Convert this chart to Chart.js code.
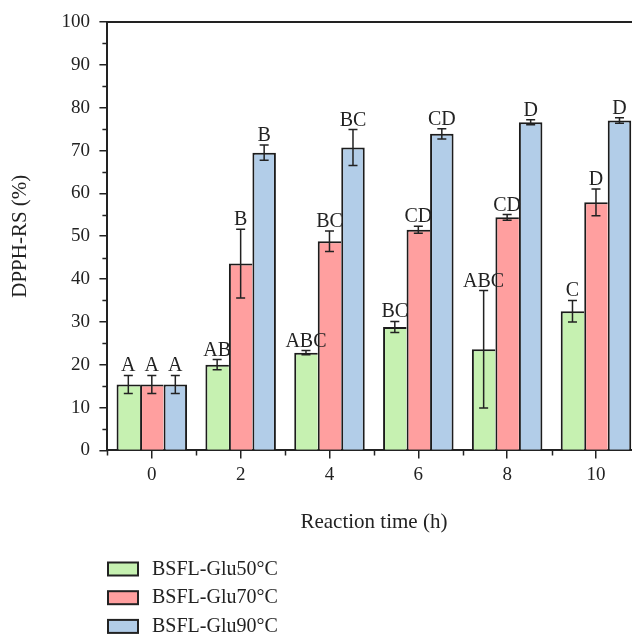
<!DOCTYPE html>
<html>
<head>
<meta charset="utf-8">
<script src="https://cdn.jsdelivr.net/npm/chart.js@4.4.1/dist/chart.umd.min.js"></script>
<style>
html,body{margin:0;padding:0;overflow:hidden;background:#fff;}
#wrap{width:660px;height:635px;position:relative;}
</style>
</head>
<body>
<div id="wrap"><canvas id="c"></canvas></div>
<script>
const categories = ['0','2','4','6','8','10'];
const seriesNames = ['BSFL-Glu50°C','BSFL-Glu70°C','BSFL-Glu90°C'];
const glu50 = [15.4, 20.0, 22.8, 28.8, 23.6, 32.5];
const glu50Err = [2.1, 1.2, 0.5, 1.3, 13.7, 2.5];
const glu70 = [15.4, 43.6, 48.8, 51.5, 54.4, 57.9];
const glu70Err = [2.1, 8.0, 2.4, 0.8, 0.65, 3.1];
const glu90 = [15.4, 69.5, 70.7, 73.9, 76.6, 77.0];
const glu90Err = [2.1, 1.8, 4.2, 1.2, 0.6, 0.65];
const glu50Letters = ['A','AB','ABC','BC','ABC','C'];
const glu70Letters = ['A','B','BC','CD','CD','D'];
const glu90Letters = ['A','B','BC','CD','D','D'];
const yMin = 0, yMax = 100, yStep = 10;

const SERIF = "'Liberation Serif','Times New Roman',serif";
const INK = '#222222';
const colors = ['#c6f1b1', '#ff9f9f', '#b2cde8'];
const errs = [glu50Err, glu70Err, glu90Err];
const letters = [glu50Letters, glu70Letters, glu90Letters];

const extras = {
  id: 'extras',
  afterDatasetsDraw(chart) {
    const ctx = chart.ctx;
    const ys = chart.scales.y;
    ctx.save();
    ctx.strokeStyle = INK;
    chart.data.datasets.forEach((ds, di) => {
      const meta = chart.getDatasetMeta(di);
      meta.data.forEach((bar, i) => {
        const v = ds.data[i], e = errs[di][i];
        const x = bar.x;
        const yt = ys.getPixelForValue(v + e);
        const yb = ys.getPixelForValue(v - e);
        ctx.lineWidth = 1.5;
        ctx.beginPath();
        ctx.moveTo(x, yt); ctx.lineTo(x, yb);
        ctx.moveTo(x - 4.5, yt); ctx.lineTo(x + 4.5, yt);
        ctx.moveTo(x - 4.5, yb); ctx.lineTo(x + 4.5, yb);
        ctx.stroke();
        ctx.fillStyle = INK;
        ctx.font = '20px ' + SERIF;
        ctx.textAlign = 'center';
        ctx.textBaseline = 'alphabetic';
        ctx.fillText(letters[di][i], x, yt - 4);
      });
    });
    ctx.restore();
  },
  afterDraw(chart) {
    const ctx = chart.ctx;
    const ys = chart.scales.y, xs = chart.scales.x;
    const ca = chart.chartArea;
    ctx.save();
    ctx.strokeStyle = INK;
    ctx.lineWidth = 2;
    ctx.beginPath();
    ctx.moveTo(ca.left - 1, ca.top); ctx.lineTo(ca.right, ca.top);
    ctx.moveTo(ca.right, ca.top); ctx.lineTo(ca.right, ca.bottom);
    ctx.stroke();
    ctx.lineWidth = 1.5;
    ctx.beginPath();
    for (let v = yMin + yStep / 2; v < yMax; v += yStep) {
      const y = Math.round(ys.getPixelForValue(v)) + 0.5;
      ctx.moveTo(ca.left - 5, y); ctx.lineTo(ca.left, y);
    }
    const n = categories.length;
    for (let i = 0; i <= n; i++) {
      let x;
      if (i === 0) x = ca.left;
      else if (i === n) x = ca.right;
      else x = (xs.getPixelForValue(i - 1) + xs.getPixelForValue(i)) / 2;
      x = Math.round(x) + 0.5;
      ctx.moveTo(x, ca.bottom); ctx.lineTo(x, ca.bottom + 5);
    }
    ctx.stroke();
    chart.data.datasets.forEach((ds, di) => {
      const bx = 108, by = 562.5 + di * 28.7, bw = 30, bh = 13;
      ctx.fillStyle = ds.backgroundColor;
      ctx.fillRect(bx, by, bw, bh);
      ctx.lineWidth = 2;
      ctx.strokeStyle = INK;
      ctx.strokeRect(bx, by, bw, bh);
      ctx.fillStyle = INK;
      ctx.font = '20px ' + SERIF;
      ctx.textAlign = 'left';
      ctx.textBaseline = 'middle';
      ctx.fillText(ds.label, 152, by + bh / 2 + 0.5);
    });
    ctx.restore();
  }
};

const bw = [
  {top: 2, left: 2, right: 0, bottom: 0},
  {top: 2, left: 2, right: 0, bottom: 0},
  {top: 2, left: 2, right: 2, bottom: 0}
];

new Chart(document.getElementById('c'), {
  type: 'bar',
  data: {
    labels: categories,
    datasets: [glu50, glu70, glu90].map((d, i) => ({
      label: seriesNames[i],
      data: d,
      backgroundColor: colors[i],
      borderColor: '#1c1c1c',
      borderWidth: bw[i],
      borderSkipped: 'start',
      categoryPercentage: 0.7937,
      barPercentage: 1.0
    }))
  },
  options: {
    responsive: true,
    maintainAspectRatio: false,
    devicePixelRatio: 1,
    animation: false,
    layout: {padding: {left: 0, top: 22, right: 19.6, bottom: 100}},
    plugins: {legend: {display: false}, tooltip: {enabled: false}},
    scales: {
      x: {
        type: 'category',
        offset: true,
        grid: {display: true, offset: false, drawOnChartArea: false, drawTicks: true, tickLength: 8, color: INK, lineWidth: 1.5},
        border: {display: true, color: INK, width: 2},
        ticks: {color: INK, font: {family: SERIF, size: 19}, padding: 5, maxRotation: 0, autoSkip: false},
        title: {display: true, text: 'Reaction time (h)', color: INK, font: {family: SERIF, size: 21}, padding: {top: 0, bottom: 0}},
        afterFit(s) { s.height = 84.6; }
      },
      y: {
        min: yMin, max: yMax,
        grid: {display: true, drawOnChartArea: false, drawTicks: true, tickLength: 8, color: INK, lineWidth: 1.5},
        border: {display: true, color: INK, width: 2},
        ticks: {stepSize: yStep, color: INK, font: {family: SERIF, size: 19}, padding: 9.4},
        title: {display: true, text: 'DPPH-RS (%)', color: INK, font: {family: SERIF, size: 21}, padding: {top: 7.4, bottom: 0}},
        afterFit(s) { s.width = 107.4; }
      }
    }
  },
  plugins: [extras]
});
</script>
</body>
</html>
